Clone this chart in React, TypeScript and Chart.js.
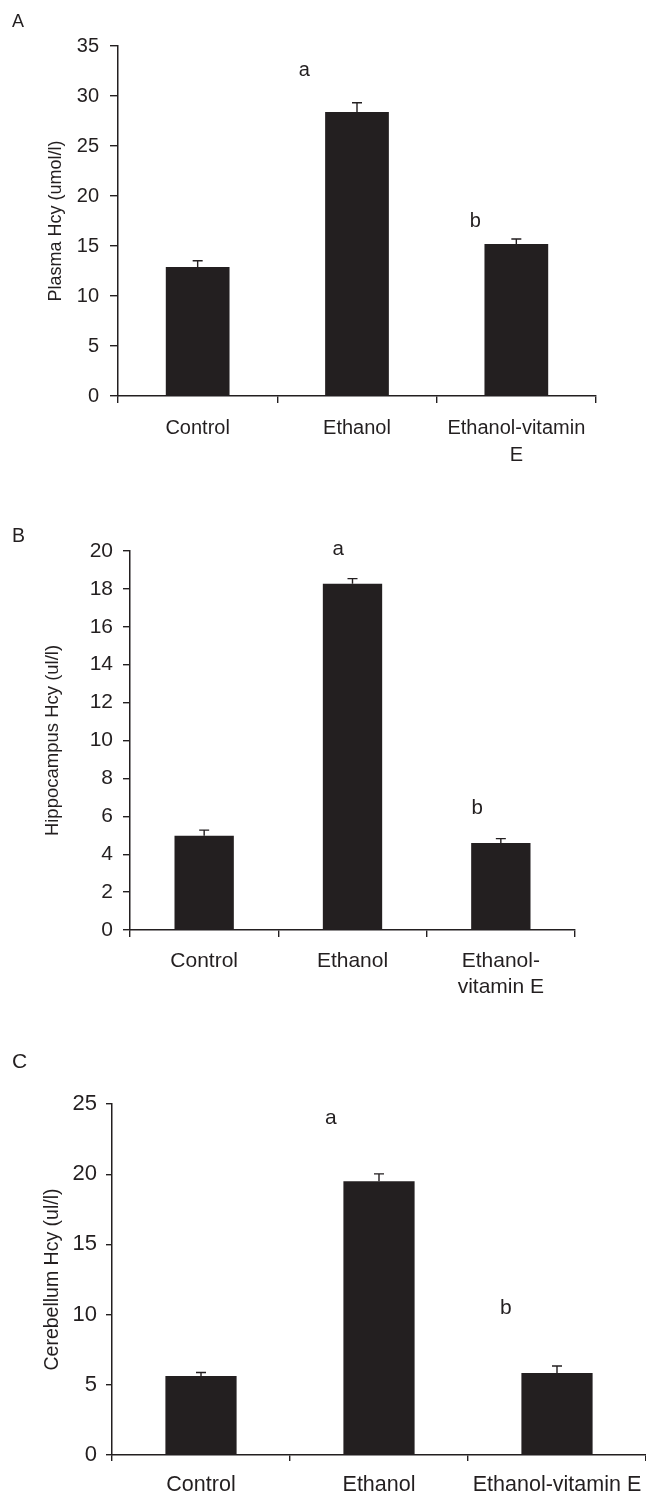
import React, { useEffect, useRef } from "react";
import { Chart, registerables } from "chart.js";

Chart.register(...registerables);

// ---------------- data ----------------
const categoriesA: (string | string[])[] = ["Control", "Ethanol", ["Ethanol-vitamin", "E"]];
const categoriesB: (string | string[])[] = ["Control", "Ethanol", ["Ethanol-", "vitamin E"]];
const categoriesC: (string | string[])[] = ["Control", "Ethanol", "Ethanol-vitamin E"];

const plasmaHcy = [12.9, 28.4, 15.2];
const plasmaSem = [0.63, 0.93, 0.5];

const hippocampusHcy = [4.97, 18.27, 4.59];
const hippocampusSem = [0.3, 0.27, 0.23];

const cerebellumHcy = [5.62, 19.5, 5.84];
const cerebellumSem = [0.26, 0.52, 0.5];

// significance letters: text, position on the category axis (index), value-axis level (baseline)
const lettersText = ["a", "b"];
const lettersAX = [0.669, 1.742];
const lettersAY = [32.0, 16.9];
const lettersBX = [0.903, 1.841];
const lettersBY = [19.79, 6.12];
const lettersCX = [0.73, 1.713];
const lettersCY = [23.6, 10.04];

const yMaxA = 35;
const yStepA = 5;
const yMaxB = 20;
const yStepB = 2;
const yMaxC = 25;
const yStepC = 5;

const titleA = "Plasma Hcy (umol/l)";
const titleB = "Hippocampus Hcy (ul/l)";
const titleC = "Cerebellum Hcy (ul/l)";

// ---------------- styling ----------------
const INK = "#231f20";
const FONT = "'Liberation Sans', Arial, Helvetica, sans-serif";
const W = 646;

const errorBarsPlugin = {
  id: "errorBars",
  afterDatasetsDraw(chart: any, _args: any, opts: any) {
    const errs: number[] = opts.errors || [];
    const meta = chart.getDatasetMeta(0);
    const ys = chart.scales.y;
    const values = chart.data.datasets[0].data as number[];
    const ctx = chart.ctx;
    ctx.save();
    ctx.strokeStyle = INK;
    ctx.lineWidth = 1.4;
    meta.data.forEach((bar: any, i: number) => {
      const top = ys.getPixelForValue(values[i] + errs[i]);
      const half = opts.cap / 2;
      ctx.beginPath();
      ctx.moveTo(bar.x, bar.y);
      ctx.lineTo(bar.x, top);
      ctx.moveTo(bar.x - half, top);
      ctx.lineTo(bar.x + half, top);
      ctx.stroke();
    });
    ctx.restore();
  },
};

const sigLettersPlugin = {
  id: "sigLetters",
  afterDraw(chart: any, _args: any, opts: any) {
    const ctx = chart.ctx;
    const xs = chart.scales.x;
    const ys = chart.scales.y;
    ctx.save();
    ctx.fillStyle = INK;
    ctx.font = `${opts.size}px ${FONT}`;
    ctx.textAlign = "center";
    ctx.textBaseline = "alphabetic";
    (opts.text as string[]).forEach((t, i) => {
      ctx.fillText(t, xs.getPixelForValue(opts.xs[i]), ys.getPixelForValue(opts.ys[i]));
    });
    // panel letter
    ctx.textAlign = "left";
    ctx.font = `${opts.panelSize}px ${FONT}`;
    ctx.fillText(opts.panel, 12, opts.panelBaseline);
    ctx.restore();
  },
};

type Spec = {
  panel: string;
  panelSize: number;
  panelBaseline: number;
  top: number;
  height: number;
  left: number;
  plotTop: number;
  right: number;
  bottom: number;
  categories: (string | string[])[];
  values: number[];
  errors: number[];
  yMax: number;
  yStep: number;
  title: string;
  titleSize: number;
  titlePad: number;
  tickSize: number;
  yTickLen: number;
  yTickPad: number;
  xTickLen: number;
  xTickPad: number;
  catSize: number;
  catLH: number;
  lx: number[];
  ly: number[];
  letterSize: number;
  cap: number;
};

const specs: Spec[] = [
  {
    panel: "A", panelSize: 18, panelBaseline: 27,
    top: 0, height: 490, left: 118, plotTop: 46, right: 596, bottom: 396,
    categories: categoriesA, values: plasmaHcy, errors: plasmaSem,
    yMax: yMaxA, yStep: yStepA, title: titleA, titleSize: 18, titlePad: 45,
    tickSize: 20, yTickLen: 8, yTickPad: 11, xTickLen: 7, xTickPad: 11.5,
    catSize: 20, catLH: 1.35, lx: lettersAX, ly: lettersAY, letterSize: 20, cap: 10,
  },
  {
    panel: "B", panelSize: 19.5, panelBaseline: 52,
    top: 490, height: 530, left: 130, plotTop: 61, right: 575, bottom: 440,
    categories: categoriesB, values: hippocampusHcy, errors: hippocampusSem,
    yMax: yMaxB, yStep: yStepB, title: titleB, titleSize: 18.5, titlePad: 41.4,
    tickSize: 21, yTickLen: 7, yTickPad: 10, xTickLen: 7, xTickPad: 10.6,
    catSize: 21, catLH: 1.27, lx: lettersBX, ly: lettersBY, letterSize: 20.5, cap: 10,
  },
  {
    panel: "C", panelSize: 21, panelBaseline: 48,
    top: 1020, height: 475, left: 112, plotTop: 84, right: 646, bottom: 435,
    categories: categoriesC, values: cerebellumHcy, errors: cerebellumSem,
    yMax: yMaxC, yStep: yStepC, title: titleC, titleSize: 19.5, titlePad: 40.5,
    tickSize: 22, yTickLen: 6, yTickPad: 9, xTickLen: 6, xTickPad: 10,
    catSize: 21.5, catLH: 1.3, lx: lettersCX, ly: lettersCY, letterSize: 21, cap: 10,
  },
];

function Panel({ spec }: { spec: Spec }) {
  const ref = useRef<HTMLCanvasElement | null>(null);
  useEffect(() => {
    if (!ref.current) return;
    const chart = new Chart(ref.current, {
      type: "bar",
      data: {
        labels: spec.categories as any,
        datasets: [
          {
            data: spec.values,
            backgroundColor: INK,
            borderWidth: 0,
            barPercentage: 0.4,
            categoryPercentage: 1,
          },
        ],
      },
      options: {
        responsive: false,
        maintainAspectRatio: false,
        animation: false,
        events: [],
        layout: { padding: { top: spec.plotTop, right: W - spec.right, left: 0, bottom: 0 } },
        plugins: {
          legend: { display: false },
          tooltip: { enabled: false },
          errorBars: { errors: spec.errors, cap: spec.cap },
          sigLetters: {
            text: lettersText, xs: spec.lx, ys: spec.ly, size: spec.letterSize,
            panel: spec.panel, panelSize: spec.panelSize, panelBaseline: spec.panelBaseline,
          },
        } as any,
        scales: {
          x: {
            offset: true,
            grid: {
              display: true, drawOnChartArea: false, drawTicks: true, offset: true,
              tickLength: spec.xTickLen, color: INK, lineWidth: 1.4,
            },
            border: { display: true, color: INK, width: 1.5 },
            ticks: {
              color: INK, autoSkip: false, maxRotation: 0, minRotation: 0,
              padding: spec.xTickPad,
              font: { family: FONT, size: spec.catSize, lineHeight: spec.catLH },
            },
            afterFit: (s: any) => {
              s.height = spec.height - spec.bottom;
              s.paddingLeft = 0;
              s.paddingRight = 0;
            },
          },
          y: {
            min: 0,
            max: spec.yMax,
            grid: {
              display: true, drawOnChartArea: false, drawTicks: true,
              tickLength: spec.yTickLen, color: INK, lineWidth: 1.4,
            },
            border: { display: true, color: INK, width: 1.5 },
            ticks: {
              stepSize: spec.yStep, color: INK, padding: spec.yTickPad,
              font: { family: FONT, size: spec.tickSize },
            },
            title: {
              display: true, text: spec.title, color: INK,
              font: { family: FONT, size: spec.titleSize, lineHeight: 1.2 },
              padding: { top: spec.titlePad, bottom: 0 },
            },
            afterFit: (s: any) => {
              s.width = spec.left;
              s.paddingTop = 0;
              s.paddingBottom = 0;
            },
          },
        },
      },
      plugins: [errorBarsPlugin, sigLettersPlugin],
    });
    return () => chart.destroy();
  }, [spec]);
  return (
    <canvas
      ref={ref}
      width={W}
      height={spec.height}
      style={{ position: "absolute", left: 0, top: spec.top, width: W, height: spec.height }}
    />
  );
}

export default function App() {
  return (
    <div style={{ position: "absolute", left: 0, top: 0, width: W, height: 1495, background: "#fff", overflow: "hidden" }}>
      {specs.map((s) => (
        <Panel key={s.panel} spec={s} />
      ))}
    </div>
  );
}
